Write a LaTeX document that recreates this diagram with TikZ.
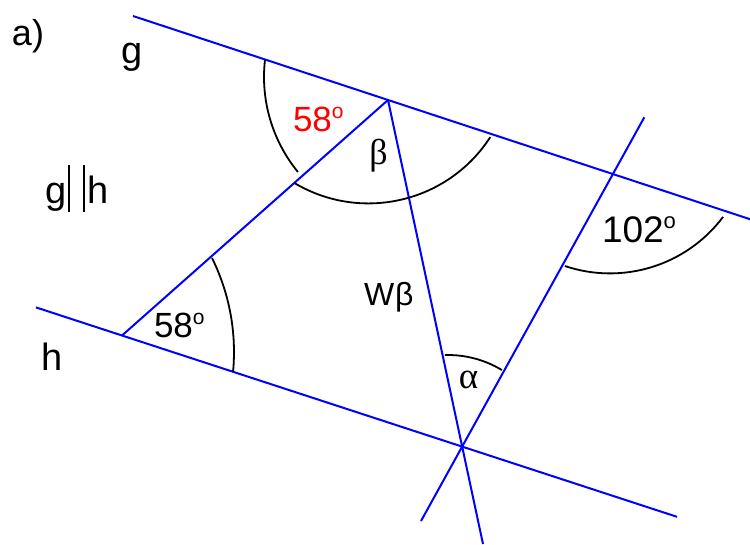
\documentclass[tikz,border=0pt]{standalone}
\usepackage{fontspec}
\setmainfont{Liberation Sans}
\newfontfamily\serifgr{Liberation Serif}
\begin{document}
\begin{tikzpicture}[x=1pt,y=1pt,
  gline/.style={draw={rgb,255:red,0;green,0;blue,255}, line width=2pt},
  arcline/.style={draw=black, line width=1.8pt},
  lbl/.style={inner sep=0pt, outer sep=0pt, anchor=base west}]
\useasboundingbox (0,0) rectangle (750,-544);
% points
\coordinate (G1) at (133,-16);
\coordinate (G2) at (750,-219.2);
\coordinate (H1) at (36,-307.4);
\coordinate (H2) at (677,-516.8);
\coordinate (A) at (122,-335.5);
\coordinate (B) at (388,-100);
\coordinate (C) at (462,-446.5);
\coordinate (W2) at (483,-544);
\coordinate (T1) at (644.3,-117.3);
\coordinate (T2) at (421,-521);
% lines
\draw[gline] (G1) -- (G2);
\draw[gline] (H1) -- (H2);
\draw[gline] (A) -- (B);
\draw[gline] (B) -- (W2);
\draw[gline] (T2) -- (T1);
% arcs
\draw[arcline] (414,-77) ++(173.5:150) arc[start angle=173.5,end angle=219.3,radius=150];
\draw[arcline] (368.5,-58.4) ++(239.5:145) arc[start angle=239.5,end angle=327.1,radius=145];
\draw[arcline] (22,-352) ++(26.3:212) arc[start angle=26.3,end angle=-5.4,radius=212];
\draw[arcline] (448,-459) ++(91.7:104) arc[start angle=91.7,end angle=58.8,radius=104];
\draw[arcline] (610,-132) ++(251.4:141.4) arc[start angle=251.4,end angle=323.1,radius=141.4];
% labels
\node[lbl] (la) at (12,-45) {\fontsize{36}{40}\selectfont a)};
\node[lbl] (lg) at (121,-63) {\fontsize{38}{40}\selectfont g};
\node[lbl] (lh) at (41,-370) {\fontsize{38}{40}\selectfont h};
\node[lbl] (lgh) at (45,-203) {\fontsize{38}{40}\selectfont g\hspace{2pt}\rule[-9pt]{2pt}{47pt}\hspace{13pt}\rule[-9pt]{2pt}{47pt}\hspace{2pt}h};
\node[lbl, text=red] (l58a) at (293,-131) {\fontsize{35}{40}\selectfont 58\raisebox{13pt}{\fontsize{21}{21}\selectfont o}};
\node[lbl] (l58b) at (154,-337) {\fontsize{35}{40}\selectfont 58\raisebox{13pt}{\fontsize{21}{21}\selectfont o}};
\node[lbl] (l102) at (602,-242) {\fontsize{37}{40}\selectfont 102\raisebox{14pt}{\fontsize{22}{22}\selectfont o}};
\node[lbl] (lwb) at (364,-305) {\fontsize{32}{40}\selectfont W\kern1pt β};
\node[inner sep=0pt, anchor=base] (lbeta) at (378.5,-164) {\fontsize{36}{40}\selectfont\serifgr β};
\node[inner sep=0pt, anchor=base] (lalpha) at (468.5,-388) {\fontsize{37}{40}\selectfont\serifgr α};
\end{tikzpicture}
\end{document}
